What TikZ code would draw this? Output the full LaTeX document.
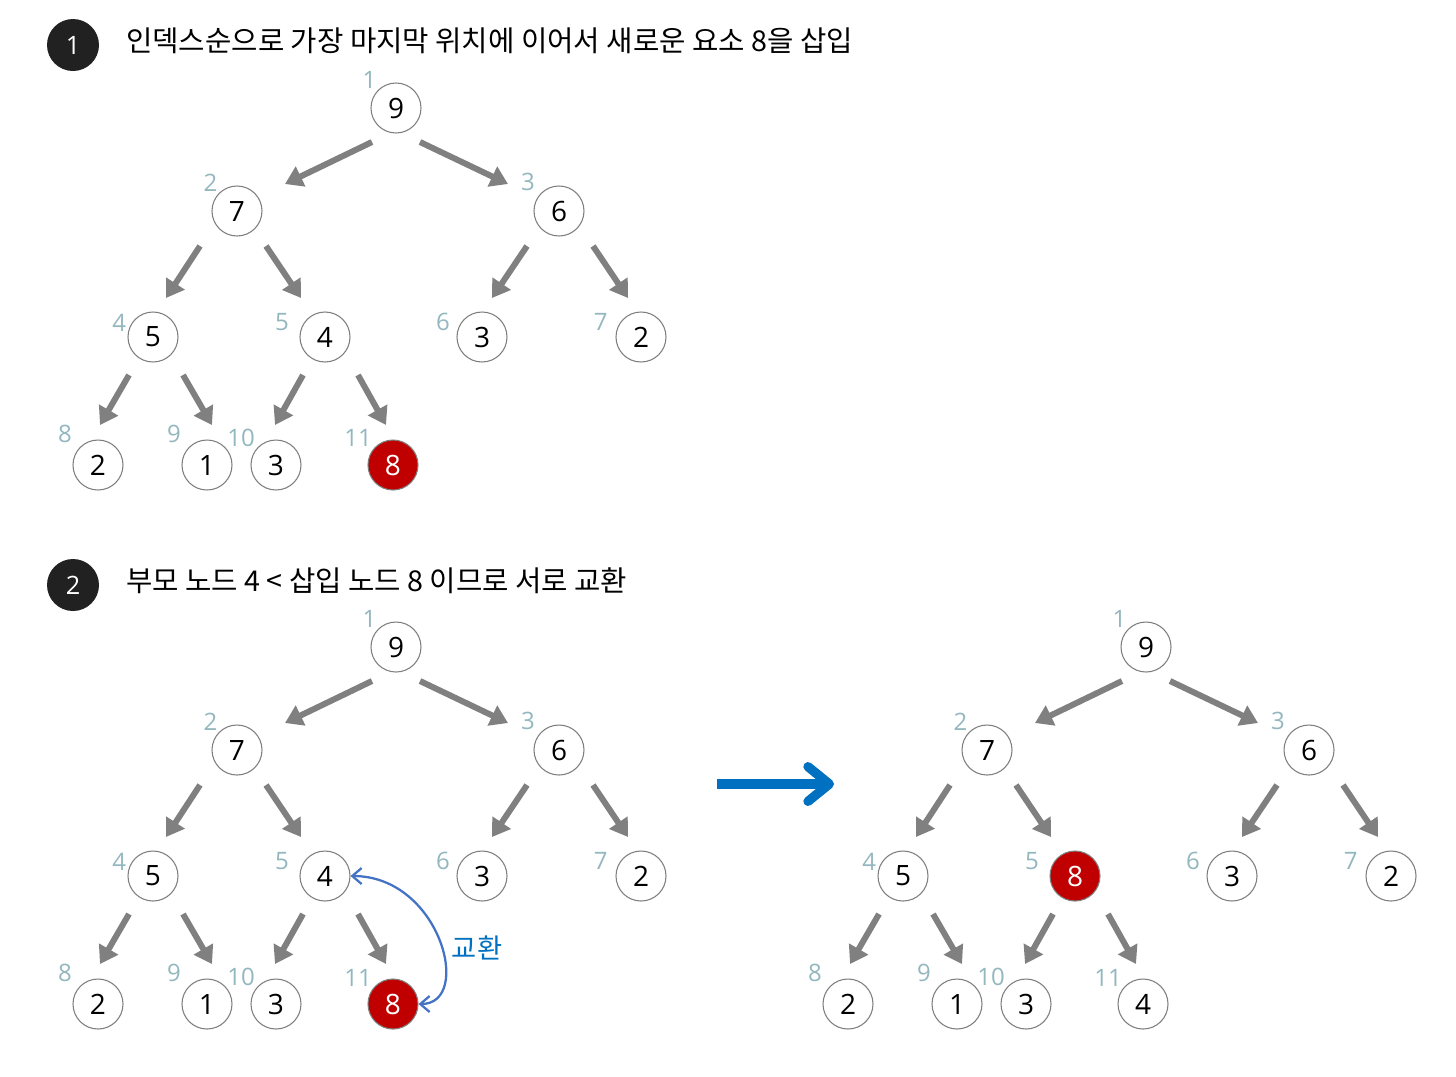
\documentclass[tikz,border=0pt]{standalone}
\usepackage{fontspec}
\setmainfont{Open Sans}
\newfontfamily\krfont{Noto Sans CJK KR}
\usetikzlibrary{arrows.meta,positioning,calc}
\definecolor{idxgray}{RGB}{147,183,190}
\definecolor{nodeline}{RGB}{127,127,127}
\definecolor{hotred}{RGB}{192,0,0}
\definecolor{swapblue}{RGB}{68,114,196}
\definecolor{stepblue}{RGB}{0,112,192}
\definecolor{badgeblack}{RGB}{33,33,33}
\tikzset{
  treearr/.style={-{Triangle[length=13pt,width=16pt]}, line width=4.5pt, draw=gray},
  keynode/.style={circle, draw=nodeline, line width=0.8pt, fill=white, minimum size=37.5pt, inner sep=0pt, font=\fontsize{21}{21}\selectfont},
  newnode/.style={keynode, fill=hotred, text=white},
  idx/.style={text=idxgray, inner sep=1pt, font=\fontsize{18}{18}\selectfont},
}

\begin{document}
\begin{tikzpicture}[
  x=0.75pt, y=-0.75pt,
  badge/.style={circle, fill=badgeblack, text=white, minimum size=39pt, inner sep=0pt, font=\fontsize{19}{19}\selectfont},
  heading/.style={anchor=west, inner sep=0pt, font=\krfont\fontsize{21.5}{22}\selectfont},
  swaparr/.style={{Straight Barb[length=7pt,width=12pt]}-{Straight Barb[length=7pt,width=12pt]}, line width=1.7pt, draw=swapblue},
  steparr/.style={-{Straight Barb[length=16pt,width=26pt,round]}, line width=7pt, draw=stepblue},
]
  \useasboundingbox (0,0) rectangle (1456,1076);

  % step headings
  \node[badge] (s1) at (73,45) {1};
  \node[heading, right=20pt of s1, yshift=3pt] (h1) {인덱스순으로 가장 마지막 위치에 이어서 새로운 요소 8을 삽입};
  \node[badge] (s2) at (73,585) {2};
  \node[heading, right=20pt of s2, yshift=3pt] (h2) {부모 노드 4 < 삽입 노드 8 이므로 서로 교환};

  % three heaps with the same layout
  \foreach \t/\sx/\sy/\ve/\se/\vk/\sk in {A/0/0/4/keynode/8/newnode, B/0/539/4/keynode/8/newnode, C/750/539/8/newnode/4/keynode}{
    \begin{scope}[shift={(\sx,\sy)}]
      \node[keynode, label={[idx]135:1}] (\t1) at (396,108) {9};
      \node[keynode, label={[idx]135:2}] (\t2) at (237,211) {7};
      \node[keynode, label={[idx,label distance=3pt]140:3}] (\t3) at (559,211) {6};
      \node[keynode, label={[idx]172:4}] (\t4) at (153,337) {5};
      \node[\se, label={[idx,label distance=7pt]172:5}] (\t5) at (325,337) {\ve};
      \node[keynode, label={[idx,label distance=4pt]172:6}] (\t6) at (482,337) {3};
      \node[keynode, label={[idx,label distance=5pt]172:7}] (\t7) at (641,337) {2};
      \node[keynode, label={[idx,label distance=5pt]140:8}] (\t8) at (98,465) {2};
      \node[keynode, label={[idx,label distance=5pt]140:9}] (\t9) at (207,465) {1};
      \node[keynode, label={[idx]140:10}] (\t10) at (276,465) {3};
      \node[\sk, label={[idx]140:11}] (\t11) at (393,465) {\vk};
    \end{scope}
    \foreach \p/\c/\a/\b/\e/\f in {1/2/-24/34/48/-27, 1/3/24/34/-51/-27,
        2/4/-37/35/13/-39, 2/5/29/35/-24/-39, 3/6/-32/35/10/-39, 3/7/34/35/-13/-39,
        4/8/-24/38/2/-40, 4/9/30/38/5/-40, 5/10/-22/38/-1/-40, 5/11/33/38/-7/-40}
      \draw[treearr] ($(\t\p)+(\a,\b)$) -- ($(\t\c)+(\e,\f)$);
  }

  % swap marker
  \draw[swaparr] (B5.east) .. controls +(90,0) and +(55,0) .. (B11.east);
  \node[text=stepblue, font=\krfont\fontsize{20.5}{21}\selectfont] (sw) at (477,948) {교환};

  % step arrow
  \coordinate (go1) at (717,784);
  \coordinate (go2) at (834,784);
  \draw[steparr] (go1) -- (go2);
\end{tikzpicture}
\end{document}
